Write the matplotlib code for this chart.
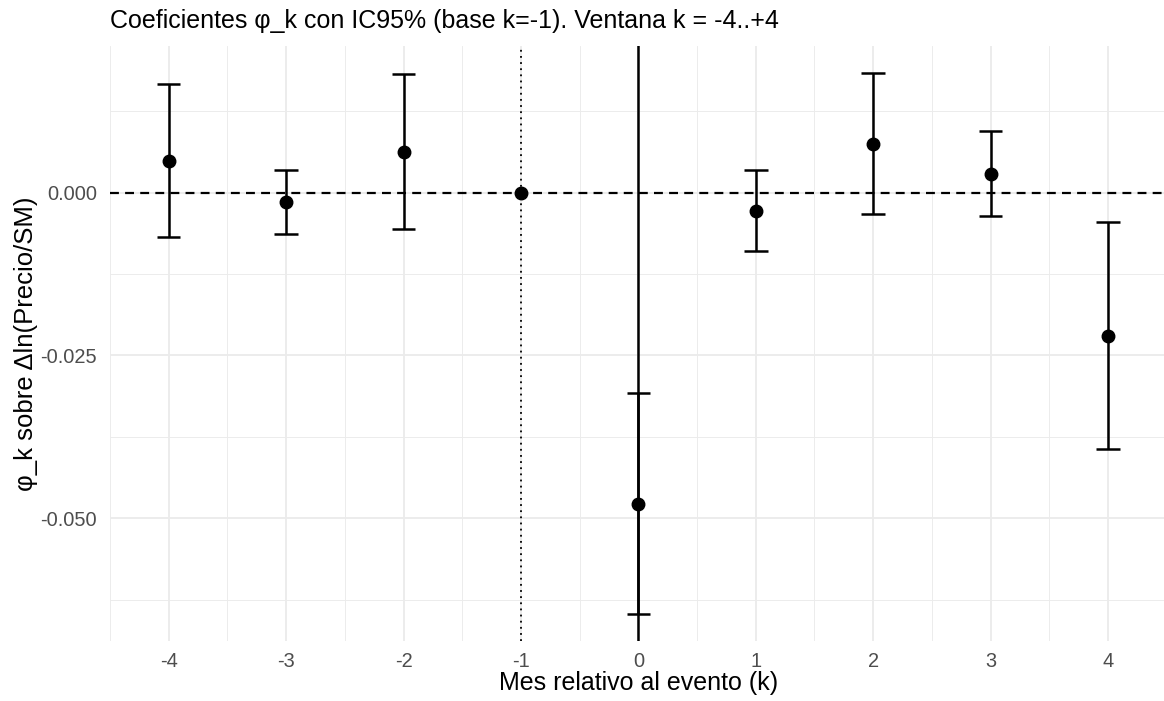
import matplotlib
matplotlib.use("Agg")
import matplotlib.pyplot as plt
from matplotlib.ticker import FixedLocator

plt.rcParams['font.family'] = ['Liberation Sans', 'DejaVu Sans']

# Event-study coefficients and 95% confidence bounds
k = [-4, -3, -2, -1, 0, 1, 2, 3, 4]
coef = [0.0048, -0.0014, 0.0062, 0.0, -0.0478, -0.0028, 0.0075, 0.0029, -0.0220]
lower = [-0.0069, -0.0063, -0.0056, 0.0, -0.0647, -0.0089, -0.0033, -0.0036, -0.0394]
upper = [0.0166, 0.0035, 0.0181, 0.0, -0.0308, 0.0034, 0.0183, 0.0095, -0.0045]

x_ticks = [-4, -3, -2, -1, 0, 1, 2, 3, 4]
x_tick_labels = ["-4", "-3", "-2", "-1", "0", "1", "2", "3", "4"]
y_ticks = [-0.050, -0.025, 0.000]
y_tick_labels = ["-0.050", "-0.025", "0.000"]

W, H = 1164, 701
fig = plt.figure(figsize=(W / 100, H / 100), dpi=100)
ax = fig.add_axes([110 / W, (H - 641) / H, (1166.7 - 110) / W, (641 - 46) / H])

ax.set_xlim(-4.5, 4.5)
ax.set_ylim(-0.06879, 0.02247)

# minimal theme: light grid, no spines, no tick marks
for s in ax.spines.values():
    s.set_visible(False)
ax.set_xticks(x_ticks)
ax.set_xticklabels(x_tick_labels)
ax.set_yticks(y_ticks)
ax.set_yticklabels(y_tick_labels)
ax.xaxis.set_minor_locator(FixedLocator([v + 0.5 for v in range(-5, 5)]))
ax.yaxis.set_minor_locator(FixedLocator([-0.0625, -0.0375, -0.0125, 0.0125]))
ax.tick_params(which='both', length=0)
ax.tick_params(axis='x', labelsize=14.4, labelcolor='#4D4D4D', pad=7.8)
ax.tick_params(axis='y', labelsize=14.4, labelcolor='#4D4D4D', pad=9.3)
ax.grid(which='major', color='#EBEBEB', lw=1.3)
ax.grid(which='minor', color='#EBEBEB', lw=0.65)
ax.set_axisbelow(True)

# reference lines
ax.axhline(0, color='black', lw=1.6, dashes=(4, 2.8), zorder=2)
ax.axvline(-1, color='black', lw=1.3, linestyle=(0, (1, 2.4)), zorder=2)
ax.axvline(0, color='black', lw=1.8, zorder=2)

# confidence intervals with caps
for xi, lo, hi in zip(k, lower, upper):
    if hi == lo:
        continue
    ax.vlines(xi, lo, hi, color='black', lw=1.8, zorder=3)
    ax.hlines([lo, hi], xi - 0.1, xi + 0.1, color='black', lw=1.8, zorder=3)

ax.plot(k, coef, 'o', color='black', markersize=9, zorder=4)

fig.text((110 + 1166.7) / 2 / W, 1 - 690 / H, "Mes relativo al evento (k)",
         fontsize=18, ha='center', va='baseline')
fig.text(26 / W, 1 - 344 / H, "φ_k sobre Δln(Precio/SM)",
         fontsize=18.5, ha='center', va='center', rotation=90)
fig.text(110 / W, 1 - 28 / H, "Coeficientes φ_k con IC95% (base k=-1). Ventana k = -4..+4",
         fontsize=18, ha='left', va='baseline')

fig.savefig("out.png", dpi=100, facecolor='white')
